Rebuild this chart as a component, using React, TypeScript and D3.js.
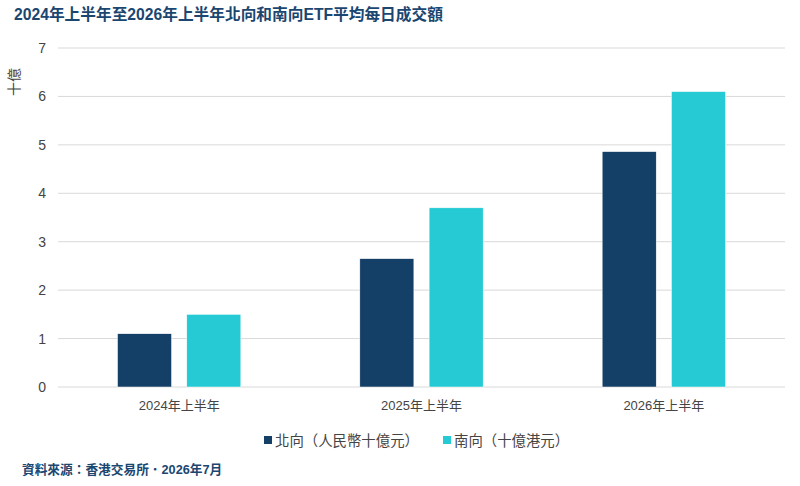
import React, { useRef, useEffect } from 'react';
import * as d3 from 'd3';

const categories = ['2024年上半年', '2025年上半年', '2026年上半年'];
const northbound = [1.1, 2.65, 4.86];
const southbound = [1.5, 3.7, 6.1];
const seriesNames = ['北向（人民幣十億元）', '南向（十億港元）'];
const yTicks = [0, 1, 2, 3, 4, 5, 6, 7];

const colors = ['#143F66', '#26CAD4'];
const font = '"Liberation Sans", Arial, "Noto Sans CJK TC", sans-serif';

const App: React.FC = () => {
  const svgRef = useRef<SVGSVGElement>(null);

  useEffect(() => {
    if (!svgRef.current) return;
    const W = 800;
    const H = 486;
    const margin = { top: 48, right: 15, bottom: 99, left: 58 };
    const width = W - margin.left - margin.right;
    const height = H - margin.top - margin.bottom;

    d3.select(svgRef.current).selectAll('*').remove();
    const root = d3.select(svgRef.current).attr('width', W).attr('height', H);

    // Titulo
    root.append('text')
      .attr('x', 14)
      .attr('y', 20)
      .text('2024年上半年至2026年上半年北向和南向ETF平均每日成交額')
      .style('font-family', font)
      .style('font-size', '15.7px')
      .style('font-weight', 'bold')
      .style('fill', '#1B4670');

    const svg = root.append('g').attr('transform', `translate(${margin.left},${margin.top})`);

    const x0 = d3.scaleBand().domain(categories).range([0, width]).padding(0);
    const x1 = d3.scaleBand().domain(['n', 's']).range([59.5, x0.bandwidth() - 59.5]).paddingInner(0.22);
    const y = d3.scaleLinear().domain([0, 7]).range([height, 0]);

    // Grade
    svg.append('g')
      .selectAll('line')
      .data(yTicks)
      .enter()
      .append('line')
      .attr('x1', 0)
      .attr('x2', width)
      .attr('y1', d => y(d))
      .attr('y2', d => y(d))
      .attr('stroke', '#D9D9D9')
      .attr('stroke-width', 1);

    const yAxis = svg.append('g').call(
      d3.axisLeft(y).tickValues(yTicks).tickFormat(d3.format('d')).tickSize(0).tickPadding(12)
    );
    yAxis.select('.domain').remove();
    yAxis.selectAll('text')
      .style('font-family', font)
      .style('font-size', '14px')
      .style('fill', '#444');

    const xAxis = svg.append('g')
      .attr('transform', `translate(0,${height})`)
      .call(d3.axisBottom(x0).tickSize(0).tickPadding(14));
    xAxis.select('.domain').remove();
    xAxis.selectAll('text')
      .style('font-family', font)
      .style('font-size', '13px')
      .style('fill', '#444');

    // Barras
    const groups = svg.selectAll('.grp')
      .data(categories)
      .enter()
      .append('g')
      .attr('transform', d => `translate(${x0(d)},0)`);

    groups.append('rect')
      .attr('x', x1('n') as number)
      .attr('width', x1.bandwidth())
      .attr('y', (_, i) => y(northbound[i]))
      .attr('height', (_, i) => height - y(northbound[i]))
      .attr('fill', colors[0])
      .attr('stroke', '#fff')
      .attr('stroke-width', 0.5);

    groups.append('rect')
      .attr('x', x1('s') as number)
      .attr('width', x1.bandwidth())
      .attr('y', (_, i) => y(southbound[i]))
      .attr('height', (_, i) => height - y(southbound[i]))
      .attr('fill', colors[1])
      .attr('stroke', '#fff')
      .attr('stroke-width', 0.5);

    // Rotulo eixo y
    root.append('text')
      .attr('transform', 'translate(19,82) rotate(-90)')
      .attr('text-anchor', 'middle')
      .text('十億')
      .style('font-family', font)
      .style('font-size', '14px')
      .style('fill', '#444');

    // Legenda
    const legendX = [264, 443];
    const legend = root.append('g').attr('transform', 'translate(0,441)');
    seriesNames.forEach((name, i) => {
      legend.append('rect')
        .attr('x', legendX[i])
        .attr('y', -5)
        .attr('width', 8)
        .attr('height', 8)
        .attr('fill', colors[i]);
      legend.append('text')
        .attr('x', legendX[i] + 11)
        .attr('y', 5)
        .text(name)
        .style('font-family', font)
        .style('font-size', '14.4px')
        .style('fill', '#444');
    });

    // Fonte
    root.append('text')
      .attr('x', 22)
      .attr('y', 474)
      .text('資料來源：香港交易所．2026年7月')
      .style('font-family', font)
      .style('font-size', '12.7px')
      .style('font-weight', 'bold')
      .style('fill', '#1B4670');
  }, []);

  return <svg ref={svgRef} style={{ display: 'block', position: 'absolute', left: 0, top: 0 }} />;
};

export default App;
